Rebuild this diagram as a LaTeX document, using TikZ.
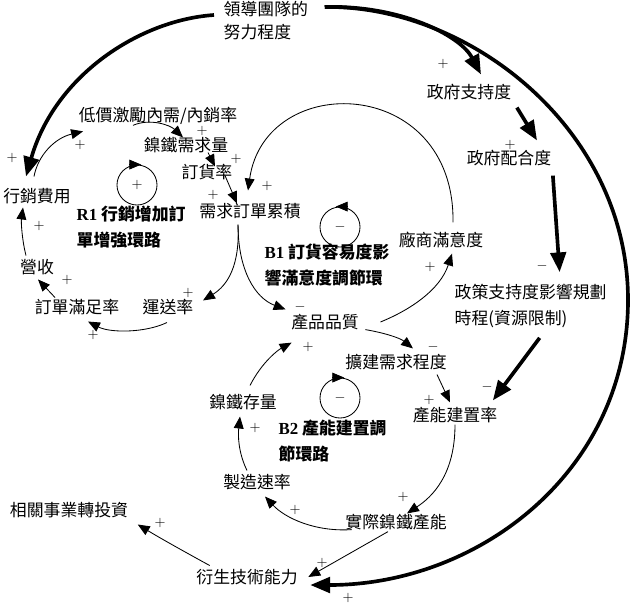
\documentclass[tikz,border=0pt]{standalone}
\usepackage{fontspec}
\newfontfamily\cjk{Noto Sans CJK TC}
\newfontfamily\tms{Liberation Serif}
\usetikzlibrary{arrows.meta}

\begin{document}
\begin{tikzpicture}[x=0.025cm, y=-0.025cm,
    var/.style={font=\cjk\fontsize{12}{16}\selectfont, inner sep=1pt},
    looplab/.style={font=\cjk\bfseries\fontsize{12}{19}\selectfont, align=left, anchor=west, inner sep=1pt},
    sign/.style={font=\normalsize, inner sep=0pt},
    link/.style={line width=0.6pt, -{Triangle[length=8.5pt,width=7pt]}},
    push/.style={line width=2.6pt, -{Triangle[length=14pt,width=11pt]}},
    loopc/.style={circle, draw, line width=0.6pt, minimum size=1cm, inner sep=0pt}]
  \useasboundingbox (0,0) rectangle (630,606);

  % variables
  \node[var, align=left, anchor=west, font=\cjk\fontsize{12}{16.3}\selectfont] (lead) at (222,21) {領導團隊的\\努力程度};
  \node[var] (gov) at (469,92) {政府支持度};
  \node[var] (coop) at (509,158) {政府配合度};
  \node[var, align=left, anchor=west, font=\cjk\fontsize{12}{19}\selectfont] (pol) at (453,306) {政策支持度影響規劃\\時程(資源限制)};
  \node[var] (sat) at (441,240) {廠商滿意度};
  \node[var] (low) at (158,116) {低價激勵內需/內銷率};
  \node[var] (dem) at (186,145) {鎳鐵需求量};
  \node[var] (ord) at (207,172) {訂貨率};
  \node[var] (mkt) at (37,196) {行銷費用};
  \node[var] (acc) at (250,211) {需求訂單累積};
  \node[var] (rev) at (37,267) {營收};
  \node[var] (full) at (77,307) {訂單滿足率};
  \node[var] (del) at (168,307) {運送率};
  \node[var] (qual) at (325,322) {產品品質};
  \node[var] (exp) at (396,362) {擴建需求程度};
  \node[var] (cap) at (455,415) {產能建置率};
  \node[var] (stock) at (243,402) {鎳鐵存量};
  \node[var] (mfg) at (257,482) {製造速率};
  \node[var] (act) at (396,522) {實際鎳鐵產能};
  \node[var] (ab) at (247,577) {衍生技術能力};
  \node[var] (inv) at (69,510) {相關事業轉投資};

  % loops
  \node[looplab] (r1lab) at (75,227) {{\tms\bfseries R1} 行銷增加訂\\單增強環路};
  \node[looplab] (b1lab) at (263,265) {{\tms\bfseries B1} 訂貨容易度影\\響滿意度調節環};
  \node[looplab] (b2lab) at (277,441) {{\tms\bfseries B2} 產能建置調\\節環路};
  \node[loopc] (r1) at (137,185) {$+$};
  \node[loopc] (b1) at (340,227) {$-$};
  \node[loopc] (b2) at (340,398) {$-$};
  \draw[link] ([xshift=-5pt]r1.north) -- ([xshift=3pt]r1.north);
  \draw[link] ([xshift=5pt]b1.north) -- ([xshift=-3pt]b1.north);
  \draw[link] ([xshift=-5pt]b2.north) -- ([xshift=3pt]b2.north);

  % leadership links
  \coordinate (rim) at (628,300);
  \draw[push] ([shift={(-8,-6)}]lead.west) .. controls (140,20) and (55,75) .. ([shift={(-11,-10)}]mkt.north);
  \draw[push] ([shift={(15,7)}]lead.north east) .. controls (400,5) and (460,35) .. ([shift={(12,-8)}]gov.north);
  \draw[push] ([shift={(15,7)}]lead.north east) .. controls (470,5) and (628,130) .. (rim)
    .. controls (628,470) and (480,585) .. ([shift={(11,8)}]ab.east);
  \draw[push] ([shift={(4,6)}]gov.south east) -- ([shift={(28,-8)}]coop.north);
  \draw[push] ([shift={(0,8)}]coop.south east) -- ([shift={(29,-10)}]pol.north);
  \draw[push] ([shift={(9,8)}]pol.south) -- ([shift={(-6,-5)}]cap.north east);

  % R1
  \draw[link] ([shift={(-3,-10)}]mkt.north) .. controls (38,155) and (55,138) .. ([shift={(6,5)}]low.south west);
  \draw[link] ([shift={(-25,-1)}]low.south) .. controls (150,118) and (170,125) .. ([shift={(-3,2)}]dem.north);
  \draw[link] ([shift={(22,-2)}]dem.south) -- ([shift={(8,4)}]ord.north);
  \draw[link] ([shift={(18,-6)}]ord.south) -- ([shift={(-13,2)}]acc.north);
  \draw[link] ([shift={(-12,4)}]acc.south) .. controls (240,265) and (228,285) .. ([shift={(8,3)}]del.north east);
  \draw[link] ([shift={(-1,6)}]del.south) .. controls (145,333) and (110,333) .. ([shift={(11,5)}]full.south);
  \draw[link] ([shift={(-22,0)}]full.north) -- ([shift={(1,3)}]rev.south);
  \draw[link] ([shift={(-11,-2)}]rev.north) .. controls (22,240) and (21,222) .. ([shift={(-14,2)}]mkt.south);

  % B1
  \draw[link] ([shift={(-12,4)}]acc.south) .. controls (238,270) and (255,298) .. ([shift={(-4,-3)}]qual.north west);
  \draw[link] ([shift={(20,0)}]qual.east) .. controls (410,310) and (440,290) .. ([shift={(11,4)}]sat.south);
  \draw[link] ([shift={(12,-8)}]sat.north) .. controls (455,75) and (265,70) .. ([shift={(-2,-11)}]acc.north);

  % B2
  \draw[link] ([shift={(5,-2)}]qual.south east) .. controls (385,333) and (400,338) .. ([shift={(17,-4)}]exp.north);
  \draw[link] ([shift={(41,3)}]exp.south) -- ([shift={(-5,-3)}]cap.north);
  \draw[link] (cap.south) .. controls (455,475) and (432,497) .. ([shift={(11,1)}]act.north);
  \draw[link] ([shift={(8,-2)}]act.south west) .. controls (315,532) and (285,518) .. ([shift={(8,5)}]mfg.south);
  \draw[link] ([shift={(-10,-2)}]mfg.north) .. controls (238,452) and (238,435) .. ([shift={(-3,5)}]stock.south);
  \draw[link] ([shift={(7,-7)}]stock.north) .. controls (262,362) and (278,350) .. ([shift={(2,11)}]qual.south west);
  \draw[link] ([shift={(-8,0)}]act.south) -- ([shift={(9,0)}]ab.east);
  \draw[link] ([shift={(15,-2)}]ab.north west) .. controls (185,552) and (160,538) .. ([shift={(8,5)}]inv.south east);

  % polarities
  \foreach \x/\y [count=\i] in {12/158, 80/145, 202/130.5, 236/159, 267/186, 213/195, 39/226, 67/280,
      188/293, 93/335, 308/347, 430/267, 443/64, 510/145, 429/400, 255/428, 295/510, 160/523,
      322/563, 403/497, 348/598}
    \node[sign] (plus\i) at (\x,\y) {$+$};
  \foreach \x/\y [count=\i] in {300/307, 542/266, 433/347, 487/387}
    \node[sign] (minus\i) at (\x,\y) {$-$};
\end{tikzpicture}
\end{document}
